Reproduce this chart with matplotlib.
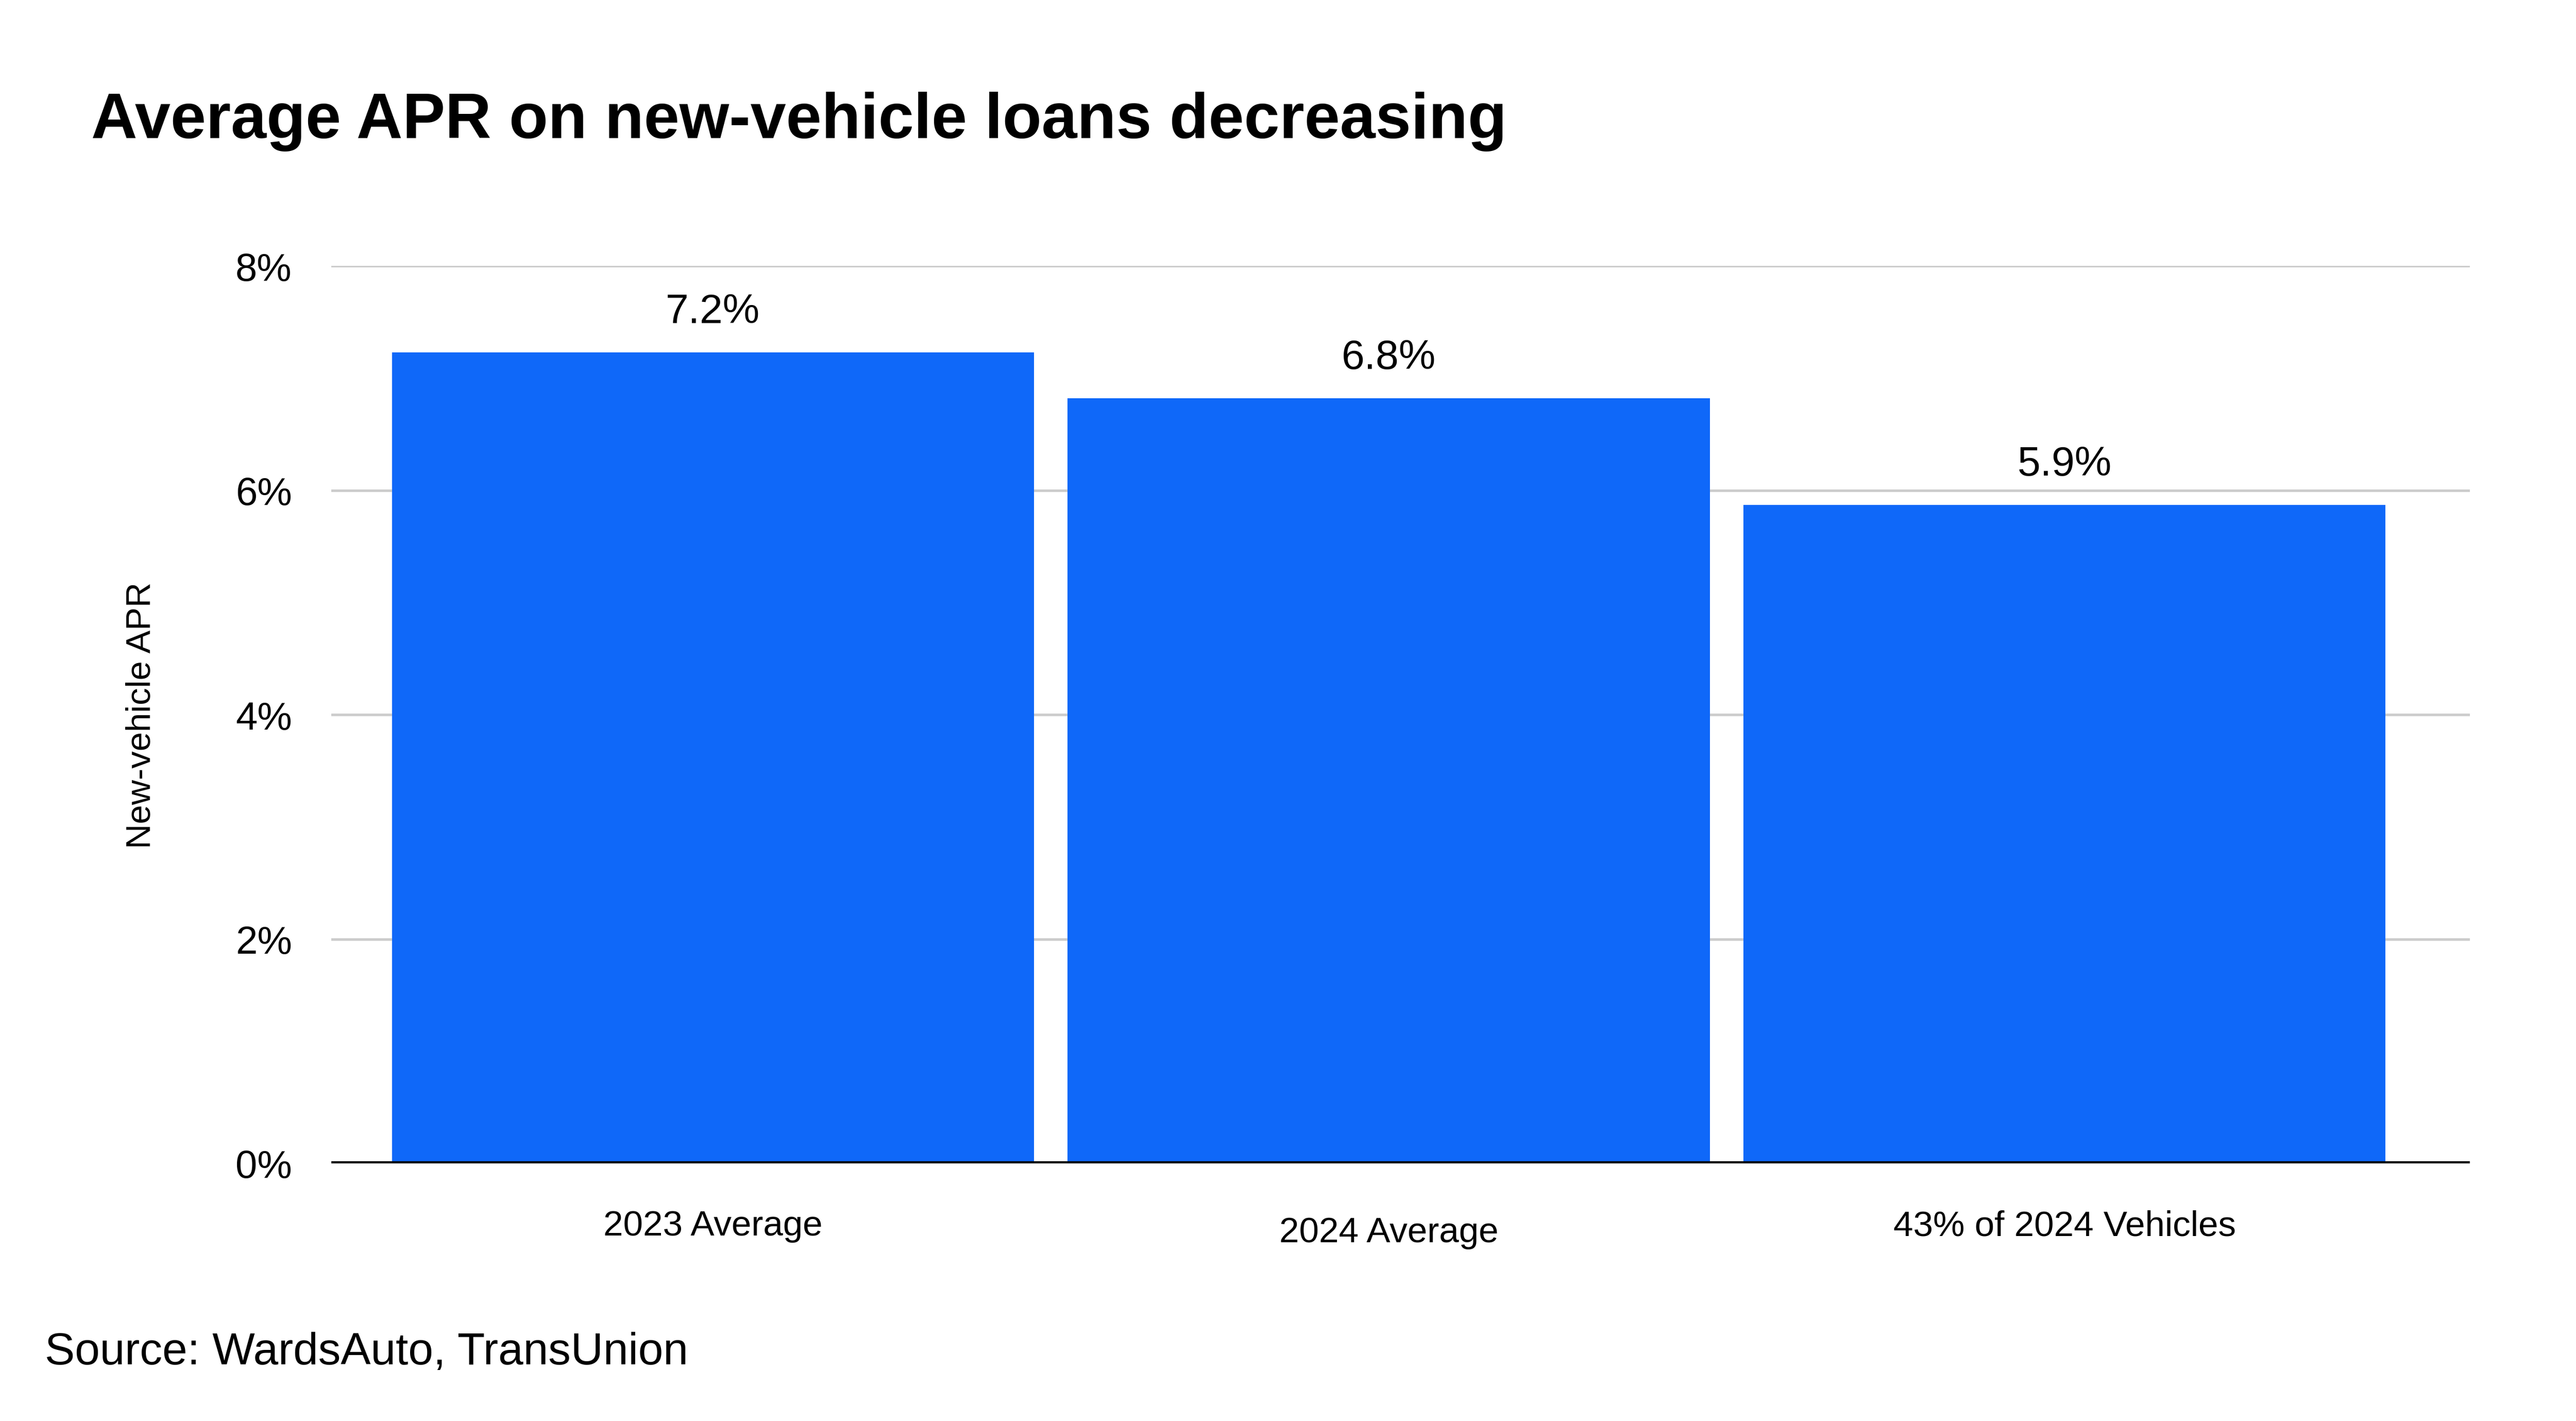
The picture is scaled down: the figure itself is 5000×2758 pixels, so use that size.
import matplotlib
matplotlib.use("Agg")
import matplotlib.pyplot as plt
import matplotlib.transforms as mtransforms
import numpy as np

# ---- data ----
categories = ["2023 Average", "2024 Average", "43% of 2024 Vehicles"]
apr_values = [7.23, 6.82, 5.87]
label_texts = ["7.2%", "6.8%", "5.9%"]
y_ticks = [0, 2, 4, 6, 8]
y_tick_labels = ["0%", "2%", "4%", "6%", "8%"]
title_text = "Average APR on new-vehicle loans decreasing"
ylabel_text = "New-vehicle APR"
source_text = "Source: WardsAuto, TransUnion"

plt.rcParams['font.family'] = ['Liberation Sans', 'DejaVu Sans']

W, H = 1556.0, 858.6
fig = plt.figure(figsize=(W / 100, H / 100), dpi=5000 / (W / 100))
fig.patch.set_facecolor("white")

ax_l, ax_r, ax_t, ax_b = 200, 1492, 161, 703
ax = fig.add_axes([ax_l / W, 1 - ax_b / H, (ax_r - ax_l) / W, (ax_b - ax_t) / H])

x = np.arange(len(categories))
bar_color = "#0F68F9"
bars = ax.bar(x, apr_values, width=0.95, color=bar_color, zorder=2)

ax.set_ylim(0, 8)
ax.set_xlim(-0.565, 2.6)
ax.set_yticks(y_ticks)
ax.set_yticklabels(y_tick_labels, fontsize=17)
ax.set_xticks(x)
ax.set_xticklabels(categories, fontsize=15.5)

ax.tick_params(axis='y', length=0, pad=17)
ax.tick_params(axis='x', length=0, pad=20)

for s in ["top", "right", "left", "bottom"]:
    ax.spines[s].set_visible(False)

for yt in y_ticks[1:]:
    ax.axhline(yt, color="#cccccc", linewidth=1.1, zorder=1)
ax.axhline(0, color="black", linewidth=1.9, zorder=3)

# offset the middle label slightly like the reference
lbls = ax.get_xticklabels()
off = mtransforms.ScaledTranslation(0, -4 / 100, fig.dpi_scale_trans)
lbls[1].set_transform(lbls[1].get_transform() + off)

for xi, v, t in zip(x, apr_values, label_texts):
    ax.annotate(t, xy=(xi, v), xytext=(0, 13), textcoords="offset points",
                ha="center", va="baseline", fontsize=18, color="black")

ax.set_ylabel(ylabel_text, fontsize=15, labelpad=0)
ax.yaxis.set_label_coords((95 - ax_l) / (ax_r - ax_l), 0.5)

fig.text(55 / W, 1 - 83.5 / H, title_text, fontsize=27.8, fontweight="bold",
         ha="left", va="baseline", color="black")
fig.text(27 / W, 1 - 824 / H, source_text, fontsize=19.6,
         ha="left", va="baseline", color="black")

fig.savefig("out.png", dpi=fig.dpi, facecolor="white")
